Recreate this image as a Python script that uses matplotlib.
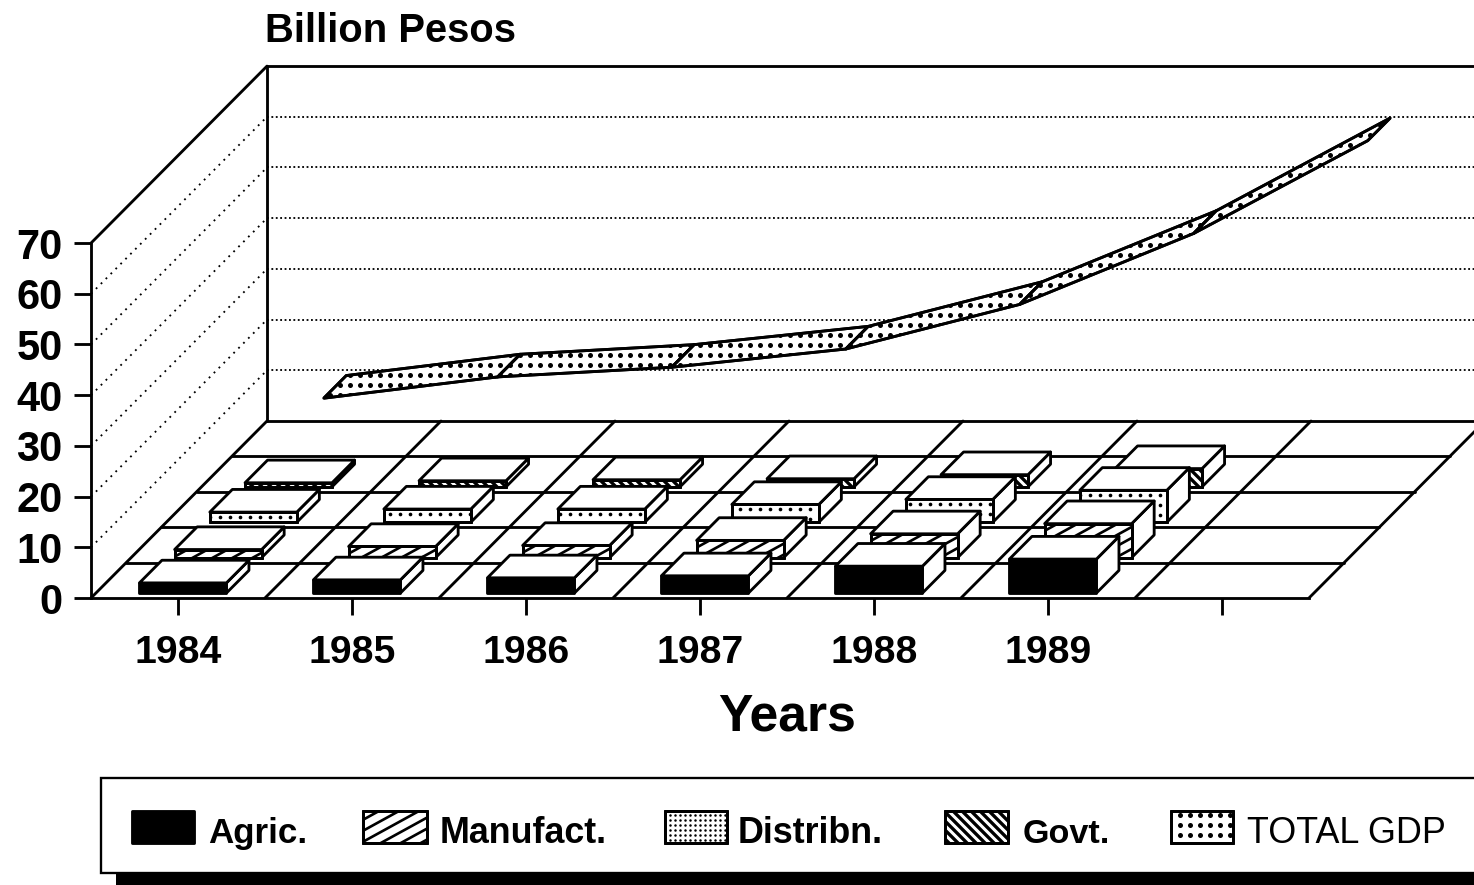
import matplotlib
matplotlib.use("Agg")
import matplotlib.pyplot as plt
import numpy as np
from matplotlib.patches import Polygon, Rectangle
from matplotlib.lines import Line2D
from matplotlib.transforms import IdentityTransform

# ---------- data (billion pesos) ----------
years = ["1984", "1985", "1986", "1987", "1988", "1989", ""]
value_ticks = [0, 10, 20, 30, 40, 50, 60, 70]
agric = [2.0, 2.6, 3.0, 3.4, 5.3, 6.7]
manufact = [1.6, 2.2, 2.4, 3.4, 4.7, 6.7]
distribn = [2.0, 2.6, 2.6, 3.5, 4.5, 6.3]
govt = [0.8, 1.2, 1.4, 1.6, 2.4, 3.6]
total_gdp = [10.5, 14.7, 16.6, 20.2, 29.0, 43.0, 61.3]
legend_labels = ["Agric.", "Manufact.", "Distribn.", "Govt.", "TOTAL GDP"]

W, H, DPI = 1474, 885, 120
plt.rcParams["font.family"] = ["Liberation Sans", "DejaVu Sans"]
LW = 1.7

fig = plt.figure(figsize=((W + 0.01) / DPI, (H + 0.01) / DPI), dpi=DPI, facecolor="white")

# Front plane of the chart: category index on x, value on y
X0, XS, Y0, YS = 178.0, 174.0, 598.0, 5.07
ax = fig.add_axes([0, 0, 1, 1], facecolor="none")
ax.set_xlim(-X0 / XS, (W - X0) / XS)
ax.set_ylim((Y0 - H) / YS, Y0 / YS)

# Oblique projection: one depth row moves the point back and up
DX, DY = 35.2 / XS, 35.4 / YS
ROWS = 5


def proj(x, depth, v=0.0):
    return (x + depth * DX, v + depth * DY)


ncat = len(years)
vmax = max(value_ticks)

ax.set_xticks(range(ncat), years)
ax.set_yticks(value_ticks)
for s in ("top", "right"):
    ax.spines[s].set_visible(False)
ax.spines["left"].set_position(("data", -0.5))
ax.spines["left"].set_bounds(0, vmax)
ax.spines["bottom"].set_position(("data", 0))
ax.spines["bottom"].set_bounds(-0.5, ncat - 0.5)
for s in ("left", "bottom"):
    ax.spines[s].set_linewidth(LW)
ax.tick_params(axis="x", length=10, width=LW, pad=12, labelsize=23.5)
ax.tick_params(axis="y", length=10, width=LW, pad=7, labelsize=25)
for t in ax.get_xticklabels() + ax.get_yticklabels():
    t.set_fontweight("bold")


def line(p, q, **kw):
    style = dict(color="k", lw=LW, solid_capstyle="round", zorder=3)
    style.update(kw)
    ax.add_line(Line2D([p[0], q[0]], [p[1], q[1]], **style))


# Walls
line(proj(-0.5, 0, vmax), proj(-0.5, ROWS, vmax))
line(proj(-0.5, ROWS, 0), proj(-0.5, ROWS, vmax))
line(proj(-0.5, ROWS, vmax), proj(ncat, ROWS, vmax))
for v in value_ticks[1:-1]:
    line(proj(-0.5, 0, v), proj(-0.5, ROWS, v), lw=1.1, ls=(0, (1, 2.8)))
    line(proj(-0.5, ROWS, v), proj(ncat, ROWS, v), lw=1.1, ls=(0, (1, 1.4)))

# Floor grid
for r in range(1, ROWS + 1):
    line(proj(-0.5, r), proj(ncat - 0.5, r))
for c in range(ncat + 1):
    line(proj(c - 0.5, 0), proj(c - 0.5, ROWS))


def patch_box(patch):
    return patch.get_path().transformed(patch.get_transform()).get_extents()


def stripes(axes, patch, spacing, slope, lw, z=3):
    """Fill a patch with straight lines that are clipped to it (screen units)."""
    bb = patch_box(patch)
    span = bb.width + bb.height / abs(slope)
    for off in np.arange(-span, span + spacing, spacing):
        xs = np.array([bb.x0 - 5, bb.x1 + 5])
        ys = bb.y0 + slope * (xs - bb.x0 - off)
        ln = Line2D(xs, ys, color="k", lw=lw, transform=IdentityTransform(), zorder=z)
        axes.add_line(ln)
        ln.set_clip_path(patch)


def dots(axes, patch, spacing, size, z=3, from_top=False):
    """Fill a patch with a square grid of dots clipped to it (screen units)."""
    bb = patch_box(patch)
    x_start = np.floor(bb.x0 / spacing) * spacing
    xs_grid = np.arange(x_start, bb.x1 + spacing, spacing)
    if from_top:
        ys_grid = np.arange(bb.y1 - spacing * 0.5, bb.y0, -spacing)
    else:
        ys_grid = np.arange(np.floor(bb.y0 / spacing) * spacing, bb.y1 + spacing, spacing)
    gx, gy = np.meshgrid(xs_grid, ys_grid)
    ln = Line2D(gx.ravel(), gy.ravel(), ls="none", marker="o", ms=size, mfc="k", mec="k", mew=0,
                transform=IdentityTransform(), zorder=z)
    axes.add_line(ln)
    ln.set_clip_path(patch)


def face(axes, pts, kind=None, z=3):
    fill = Polygon(pts, closed=True, fc="black" if kind == "solid" else "white",
                   ec="k", lw=LW, zorder=z, joinstyle="round")
    axes.add_patch(fill)
    if kind == "rising":
        stripes(axes, fill, 20, 0.55, 1.6, z)
    elif kind == "falling":
        stripes(axes, fill, 9, -1.0, 2.0, z)
    elif kind == "dots":
        dots(axes, fill, 10, 2.2, z, from_top=True)
    elif kind == "bigdots":
        dots(axes, fill, 10, 3.0, z)
    elif kind == "fine":
        dots(axes, fill, 5, 1.5, z)
    if kind not in (None, "solid"):
        axes.add_patch(Polygon(pts, closed=True, fill=False, ec="k", lw=LW, zorder=z))


# Bars, back row first
BAR_W, D0, DEPTH = 0.5, 0.14, 0.64
rows = [(agric, "solid"), (manufact, "rising"), (distribn, "dots"), (govt, "falling")]
for r in range(len(rows) - 1, -1, -1):
    vals, kind = rows[r]
    for i, v in enumerate(vals):
        xl, xr = i - BAR_W / 2, i + BAR_W / 2
        d0, d1 = r + D0, r + D0 + DEPTH
        face(ax, [proj(xr, d0, 0), proj(xr, d1, 0), proj(xr, d1, v), proj(xr, d0, v)])
        face(ax, [proj(xl, d0, v), proj(xr, d0, v), proj(xr, d1, v), proj(xl, d1, v)])
        face(ax, [proj(xl, d0, 0), proj(xr, d0, 0), proj(xr, d0, v), proj(xl, d0, v)], kind)

# TOTAL GDP ribbon on the back row
d0, d1 = 4 + D0, 4 + D0 + DEPTH
for i in range(len(total_gdp) - 1):
    a, b = total_gdp[i], total_gdp[i + 1]
    face(ax, [proj(i, d0, a), proj(i + 1, d0, b), proj(i + 1, d1, b), proj(i, d1, a)], "bigdots", z=4)

# Overlay in pixel units: titles and legend
lax = fig.add_axes([0, 0, 1, 1], facecolor="none")
lax.set_xlim(0, W)
lax.set_ylim(H, 0)
lax.axis("off")
lax.text(265, 42, "Billion Pesos", fontsize=24, fontweight="bold", va="baseline", ha="left")
lax.text(787, 730, "Years", fontsize=31, fontweight="bold", va="baseline", ha="center")

lax.add_patch(Rectangle((116, 873), W - 116, 14, fc="k", ec="none", zorder=2))
lax.add_patch(Rectangle((101, 778), W + 10, 95, fc="white", ec="k", lw=1.4, zorder=2))

legend_kinds = ["solid", "rising", "fine", "falling", "bigdots"]
swatch_x = [(132, 194), (363, 427), (665, 727), (945, 1008), (1171, 1233)]
label_x = [208, 440, 738, 1023, 1247]
sizes = [21, 21.5, 21.5, 20.5, 21.5]
weights = ["bold", "bold", "bold", "bold", "normal"]
for lab, kind, (x0, x1), tx, fs, wt in zip(legend_labels, legend_kinds, swatch_x, label_x, sizes, weights):
    face(lax, [(x0, 811), (x1, 811), (x1, 843), (x0, 843)], kind)
    lax.text(tx, 843, lab, fontsize=fs, fontweight=wt, va="baseline", ha="left", zorder=5)

fig.savefig("out.png", dpi=DPI)
